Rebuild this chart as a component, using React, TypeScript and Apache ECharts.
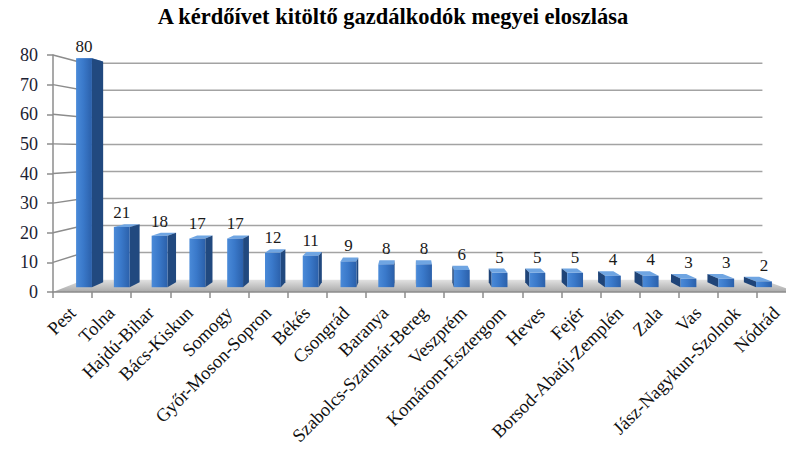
import { useEffect, useRef } from "react";
import * as echarts from "echarts";

const titleText = "A kérdőívet kitöltő gazdálkodók megyei eloszlása";
const categories = [
  "Pest", "Tolna", "Hajdú-Bihar", "Bács-Kiskun", "Somogy", "Győr-Moson-Sopron",
  "Békés", "Csongrád", "Baranya", "Szabolcs-Szatmár-Bereg", "Veszprém",
  "Komárom-Esztergom", "Heves", "Fejér", "Borsod-Abaúj-Zemplén", "Zala", "Vas",
  "Jász-Nagykun-Szolnok", "Nódrád",
];
const values = [80, 21, 18, 17, 17, 12, 11, 9, 8, 8, 6, 5, 5, 5, 4, 4, 3, 3, 2];
const yTicks = [0, 10, 20, 30, 40, 50, 60, 70, 80];

// perspective settings (style only)
const VP = [410, 150];
const S_WALL = 0.913;
const S_FRONT = 0.966;
const S_BACK = 0.932;
const BAR_FRAC = 0.42;
const SERIF = "Liberation Serif";

function P(x: number, y: number, s: number): number[] {
  return [VP[0] + (x - VP[0]) * s, VP[1] + (y - VP[1]) * s];
}

export default function App() {
  const ref = useRef<HTMLDivElement>(null);
  useEffect(() => {
    if (!ref.current) return;
    const chart = echarts.init(ref.current, null, { renderer: "svg" });
    const option: any = {
      animation: false,
      backgroundColor: "#ffffff",
      title: {
        text: titleText,
        left: "center",
        top: 0,
        textStyle: { fontFamily: SERIF, fontSize: 22.5, fontWeight: "bold", color: "#000" },
      },
      grid: { left: 53, top: 55, width: 743, height: 237, containLabel: false, outerBoundsMode: "none" },
      xAxis: {
        type: "category",
        data: categories,
        z: 5,
        axisLine: { show: true, lineStyle: { color: "#8c8c8c", width: 1.5 } },
        axisTick: { show: true, length: 6, interval: 0, alignWithLabel: false, lineStyle: { color: "#8c8c8c", width: 1.5 } },
        axisLabel: { interval: 0, rotate: 45, margin: 18, fontFamily: SERIF, fontSize: 18.5, color: "#111" },
        splitLine: { show: false },
      },
      yAxis: {
        type: "value",
        min: 0,
        max: 80,
        interval: 10,
        z: 5,
        axisLine: { show: true, lineStyle: { color: "#8c8c8c", width: 1.5 } },
        axisTick: { show: true, length: 6, lineStyle: { color: "#8c8c8c", width: 1.5 } },
        axisLabel: { margin: 15, fontFamily: SERIF, fontSize: 18, color: "#1c2233" },
        splitLine: { show: false },
      },
      series: [
        {
          type: "custom",
          z: 1,
          silent: true,
          data: yTicks.map((v) => [0, v]),
          renderItem: (params: any, api: any) => {
            const cs = params.coordSys;
            const v = api.value(1);
            const y = api.coord([0, v])[1];
            const fl = [cs.x, y];
            const fr = [cs.x + cs.width, y];
            const bl = P(fl[0], fl[1], S_WALL);
            const br = P(fr[0], fr[1], S_WALL);
            const children: any[] = [];
            if (v === 0) {
              children.push({
                type: "polygon",
                shape: { points: [fl, fr, br, bl] },
                style: {
                  fill: new echarts.graphic.LinearGradient(0, 0, 0, 1, [
                    { offset: 0, color: "#e2e2e2" },
                    { offset: 1, color: "#a9a9a9" },
                  ]),
                },
              });
            } else {
              children.push({
                type: "line",
                shape: { x1: bl[0], y1: bl[1], x2: br[0], y2: br[1] },
                style: { stroke: "#a3a3a3", lineWidth: 1.5 },
              });
              children.push({
                type: "line",
                shape: { x1: fl[0], y1: fl[1], x2: bl[0], y2: bl[1] },
                style: { stroke: "#8c8c8c", lineWidth: 1.5 },
              });
            }
            return { type: "group", children };
          },
        },
        {
          type: "custom",
          z: 3,
          data: values.map((v, i) => [i, v]),
          renderItem: (params: any, api: any) => {
            const i = api.value(0);
            const v = api.value(1);
            const c = api.coord([i, v]);
            const b = api.coord([i, 0]);
            const bw = api.size([1, 0])[0] * BAR_FRAC;
            const xl = c[0] - bw / 2;
            const xr = c[0] + bw / 2;
            const yt = c[1];
            const yb = b[1];
            const F = (x: number, y: number) => P(x, y, S_FRONT);
            const B = (x: number, y: number) => P(x, y, S_BACK);
            const children: any[] = [];
            children.push({
              type: "polygon",
              shape: { points: [F(xl, yt), F(xr, yt), B(xr, yt), B(xl, yt)] },
              style: { fill: "#6fa5e2" },
            });
            if (c[0] < VP[0]) {
              children.push({
                type: "polygon",
                shape: { points: [F(xr, yt), B(xr, yt), B(xr, yb), F(xr, yb)] },
                style: { fill: "#21497f" },
              });
            } else {
              children.push({
                type: "polygon",
                shape: { points: [F(xl, yt), B(xl, yt), B(xl, yb), F(xl, yb)] },
                style: { fill: "#1f4478" },
              });
            }
            children.push({
              type: "polygon",
              shape: { points: [F(xl, yt), F(xr, yt), F(xr, yb), F(xl, yb)] },
              style: {
                fill: new echarts.graphic.LinearGradient(0, 0, 1, 0, [
                  { offset: 0, color: "#4a8ad8" },
                  { offset: 0.45, color: "#3a79ca" },
                  { offset: 1, color: "#2b60aa" },
                ]),
              },
            });
            const top = Math.min(F(c[0], yt)[1], B(c[0], yt)[1]);
            children.push({
              type: "text",
              style: {
                x: F(c[0], yt)[0],
                y: top - 3,
                text: String(v),
                align: "center",
                verticalAlign: "bottom",
                font: "17px 'Liberation Serif'",
                fontFamily: SERIF,
                fontSize: 17,
                fill: "#1a1a1a",
              },
            });
            return { type: "group", children };
          },
        },
      ],
    };
    chart.setOption(option);
    return () => chart.dispose();
  }, []);
  return (
    <div
      ref={ref}
      style={{ position: "fixed", left: 0, top: 0, width: 786, height: 451, background: "#fff" }}
    />
  );
}
